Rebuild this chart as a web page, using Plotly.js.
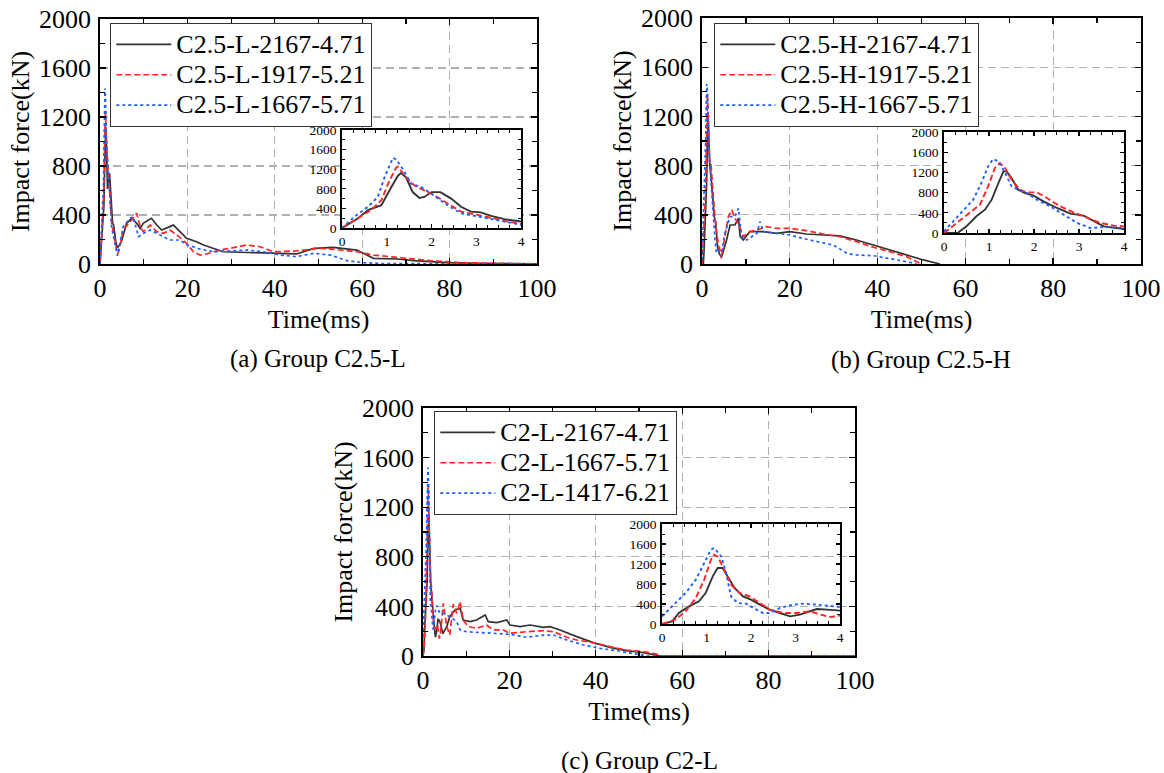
<!DOCTYPE html>
<html><head><meta charset="utf-8">
<script src="https://cdn.plot.ly/plotly-3.0.1.min.js"></script>
<style>html,body{margin:0;padding:0;background:#fff}#chart{width:1164px;height:773px}</style>
</head><body><div id="chart"></div>
<script>
// ---------- (a) Group C2.5-L ----------
const aNames = ['C2.5-L-2167-4.71', 'C2.5-L-1917-5.21', 'C2.5-L-1667-5.71'];
const aBlackT = [0,0.36,0.58,0.73,0.88,1.1,1.25,1.32,1.43,1.58,1.73,1.84,2.0,2.2,2.44,2.66,2.88,3.1,3.33,3.63,4.0,4.6,5.0,6.1,7.3,8.4,9.2,9.9,11.1,11.8,13,14.1,16,16.8,18.3,19.8,22.1,23.7,28.2,33.6,39.7,45,48.9,53.4,58.8,62.6,68,71.8,79.4,87,100];
const aBlackF = [0,200,367,420,467,833,1067,1120,1033,733,613,633,733,733,600,433,333,320,247,180,133,160,196,332,373,332,291,332,359,373,318,277,305,318,264,210,182,155,100,95,87,82,128,136,114,46,41,27,11,5,2];
const aRedT = [0,0.36,0.65,0.88,1.06,1.21,1.25,1.43,1.62,1.84,2.07,2.36,2.66,3.03,3.33,3.7,4.0,4.4,5.3,6.9,8.4,9.2,9.9,11.5,13,14.5,16,17.6,19.8,21.4,22.9,24.4,27.5,29.8,33.6,36.6,39.7,45,50.4,53.4,58.8,62.6,68,75.6,83,94.5,100];
const aRedF = [0,200,367,567,967,1233,1250,1033,867,767,667,500,333,267,200,133,80,114,277,345,414,305,264,318,264,250,277,237,169,100,73,82,114,128,155,141,100,107,128,120,100,73,54,27,11,3,0];
const aBlueT = [0,0.28,0.58,0.8,0.95,1.14,1.21,1.36,1.55,1.77,2.0,2.3,2.66,3.03,3.4,4.0,5.3,6.9,7.6,8.8,9.9,11.5,13,14.5,16,18.3,19.8,21.4,22.1,26,29.8,33.6,37.4,41.2,45,48.9,52.7,56.5,60.3,65,100];
const aBlueF = [0,233,433,633,1033,1433,1400,1200,900,833,700,500,300,233,167,67,305,373,386,223,250,277,250,223,196,196,155,141,128,100,107,114,100,73,60,87,73,27,11,3,0];

// ---------- (b) Group C2.5-H ----------
const bNames = ['C2.5-H-2167-4.71', 'C2.5-H-1917-5.21', 'C2.5-H-1667-5.71'];
const bBlackT = [0,0.3,0.5,0.72,0.91,1.06,1.21,1.32,1.39,1.5,1.65,1.8,1.99,2.21,2.51,2.81,3.1,3.33,3.55,4.0,4.5,5.6,6.4,7.5,8.3,8.7,9.4,10.9,14,17,20,23.8,27.6,31.4,35.2,39,42.8,46.6,50.4,54.2];
const bBlackF = [0,0,132,330,462,660,990,1221,1221,1089,858,792,739,627,495,383,343,231,132,79,60,195,317,317,371,222,195,263,263,249,263,244,236,228,195,154,114,73,33,0];
const bRedT = [0,0.28,0.57,0.8,0.98,1.13,1.24,1.36,1.5,1.69,1.84,2.06,2.29,2.58,2.88,3.18,3.48,3.78,4.0,4.4,5.2,6.0,6.8,7.5,8.3,9.4,10.9,12.5,14.7,17,20,23.8,27.6,31.4,35.2,39,42.8,46.6,49.7];
const bRedF = [0,198,396,561,924,1287,1386,1287,1056,858,805,805,693,528,409,297,198,145,132,46,222,385,439,371,330,222,263,276,303,290,290,271,244,222,182,136,100,60,5];
const bBlueT = [0,0.2,0.42,0.65,0.83,0.98,1.09,1.21,1.36,1.5,1.65,1.84,2.06,2.36,2.66,2.96,3.25,3.55,4.0,4.3,5.2,6.4,7.5,8.3,9.0,10.2,12.5,13.2,14,17,20,23.8,27.6,29.9,33,35.2,39,42.8,46.6,48.9];
const bBlueF = [33,231,429,660,990,1320,1465,1419,1188,924,858,792,660,528,363,198,99,119,99,60,249,385,385,453,222,195,249,344,263,249,236,201,168,154,87,73,68,46,19,0];

// ---------- (c) Group C2-L ----------
const cNames = ['C2-L-2167-4.71', 'C2-L-1667-5.71', 'C2-L-1417-6.21'];
const cBlackT = [0,0.23,0.38,0.61,0.83,0.98,1.14,1.25,1.36,1.48,1.63,1.82,2.0,2.2,2.42,2.65,2.88,3.1,3.33,3.48,3.71,4.0,4.6,5.5,6.2,7.4,8.6,9.3,10.9,12.4,14.4,15.1,17.1,19.4,20.1,22.5,24.8,27.9,29.4,31.7,35.6,39.4,43.3,47.1,51,54.1,55,100];
const cBlackF = [0,53,220,353,453,620,953,1120,1120,953,720,553,487,387,287,220,153,187,253,300,287,267,180,237,317,371,384,290,277,290,331,277,269,290,250,237,250,231,237,210,156,108,70,43,27,8,0,0];
const cRedT = [0,0.3,0.53,0.76,0.95,1.1,1.17,1.25,1.4,1.55,1.74,1.97,2.2,2.42,2.73,3.03,3.33,3.56,3.79,4.0,4.7,5.5,6.2,7.0,7.8,8.6,9.3,10.5,12.4,14.7,16.3,18.6,20.1,24,27.9,30.2,33.3,35.6,39.4,43.3,47.1,51,54.1,55,100];
const cRedF = [0,87,253,520,887,1287,1387,1353,1087,787,620,553,420,287,220,220,253,187,140,167,425,237,169,419,344,438,290,237,223,250,210,210,183,196,204,196,151,129,108,75,48,35,16,0,0];
const cBlueT = [0,0.23,0.53,0.76,0.95,1.1,1.17,1.33,1.44,1.55,1.7,1.89,2.05,2.27,2.42,2.65,2.95,3.18,3.48,3.79,4.0,4.7,6.2,7.8,8.6,10.1,12.4,16.3,20.1,24,27.9,30.2,33.3,37.1,41,44.8,49.5,51,52,100];
const cBlueF = [153,353,620,887,1220,1487,1520,1353,1020,553,420,407,320,220,220,320,387,407,387,353,340,344,317,277,210,196,191,183,175,151,169,169,129,89,62,43,16,8,0,0];

const captions = ['(a) Group C2.5-L', '(b) Group C2.5-H', '(c) Group C2-L'];
const xTitle = 'Time(ms)';
const yTitle = 'Impact force(kN)';

// ---------- styling ----------
const FONT = 'Liberation Serif, Times New Roman, serif';
const W = 1164, H = 773;
const px = (x) => x / W;
const py = (y) => 1 - y / H;
const styles = [
  {color: '#333333', width: 1.7, dash: 'solid'},
  {color: '#ff2626', width: 1.7, dash: '6px,3px'},
  {color: '#1f5fff', width: 1.7, dash: 'dot'}
];

const groups = [
  {names: aNames, T: [aBlackT, aRedT, aBlueT], F: [aBlackF, aRedF, aBlueF], main: 1, inset: 4, legend: 'legend', opaqueInset: true},
  {names: bNames, T: [bBlackT, bRedT, bBlueT], F: [bBlackF, bRedF, bBlueF], main: 2, inset: 5, legend: 'legend2', opaqueInset: true},
  {names: cNames, T: [cBlackT, cRedT, cBlueT], F: [cBlackF, cRedF, cBlueF], main: 3, inset: 6, legend: 'legend3', opaqueInset: false}
];
const axId = (n) => n === 1 ? '' : String(n);
const insetRangeX = [0, 4], rangeY = [0, 2000], mainRangeX = [0, 100];

const data = [];
groups.forEach(g => {
  for (let i = 0; i < 3; i++) {
    data.push({type: 'scatter', mode: 'lines', x: g.T[i], y: g.F[i],
      name: '<span style="font-size:26px">' + g.names[i] + '</span>',
      xaxis: 'x' + axId(g.main), yaxis: 'y' + axId(g.main), legend: g.legend,
      line: Object.assign({}, styles[i]), hoverinfo: 'skip'});
  }
  for (let i = 0; i < 3; i++) {
    data.push({type: 'scatter', mode: 'lines', x: g.T[i], y: g.F[i], name: g.names[i],
      xaxis: 'x' + axId(g.inset), yaxis: 'y' + axId(g.inset), showlegend: false,
      line: Object.assign({}, styles[i], {width: 1.9}), hoverinfo: 'skip'});
  }
});

// pixel boxes [x0, x1, y0(top), y1(bottom)]
const mainBoxes = [[100, 537, 19, 264], [702, 1141, 18, 264], [423, 855, 408, 656]];
const insetBoxes = [[342, 521, 130, 228], [944, 1124, 132, 233], [662, 840, 524, 624]];
const legendPos = [[110, 23], [714, 23], [434, 411]];
const captionPos = [[318, 359], [921, 360], [639, 761]];

const tickFont = {family: FONT, size: 26, color: '#000'};
const insetFont = {family: FONT, size: 13.5, color: '#000'};

const layout = {
  width: W, height: H,
  margin: {l: 0, r: 0, t: 0, b: 0},
  paper_bgcolor: '#ffffff', plot_bgcolor: 'rgba(255,255,255,0)',
  showlegend: true,
  font: {family: FONT, color: '#000'},
  annotations: [], shapes: []
};

mainBoxes.forEach((b, k) => {
  const id = axId(k + 1);
  layout['xaxis' + id] = {
    domain: [px(b[0]), px(b[1])], anchor: 'y' + id, range: mainRangeX, tick0: 0, dtick: 20,
    ticks: 'inside', ticklen: 6, tickwidth: 1.4, tickcolor: '#000', mirror: 'ticks',
    showline: true, linecolor: '#000', linewidth: 1.8, zeroline: false,
    showgrid: true, gridcolor: '#b0b0b0', gridwidth: 1.3, griddash: '8px,5px',
    minor: {dtick: 10, ticks: 'inside', ticklen: 5, tickwidth: 1.2, tickcolor: '#000', showgrid: false},
    tickfont: tickFont, fixedrange: true,
    title: {text: xTitle, font: {family: FONT, size: 26, color: '#000'}, standoff: 8}
  };
  layout['yaxis' + id] = {
    domain: [py(b[3]), py(b[2])], anchor: 'x' + id, range: rangeY, tick0: 0, dtick: 400,
    ticks: 'inside', ticklen: 6, tickwidth: 1.4, tickcolor: '#000', mirror: 'ticks',
    showline: true, linecolor: '#000', linewidth: 1.8, zeroline: false,
    showgrid: true, gridcolor: '#b0b0b0', gridwidth: 1.3, griddash: '8px,5px',
    minor: {dtick: 200, ticks: 'inside', ticklen: 5, tickwidth: 1.2, tickcolor: '#000', showgrid: false},
    tickfont: tickFont, fixedrange: true, ticklabelstandoff: 2,
    title: {text: yTitle, font: {family: FONT, size: 26, color: '#000'}, standoff: 2}
  };
});

insetBoxes.forEach((b, k) => {
  const id = String(k + 4);
  layout['xaxis' + id] = {
    domain: [px(b[0]), px(b[1])], anchor: 'y' + id, range: insetRangeX, tick0: 0, dtick: 1,
    ticks: 'inside', ticklen: 4, tickwidth: 1.2, tickcolor: '#000', mirror: 'ticks',
    showline: true, linecolor: '#000', linewidth: 1.7, zeroline: false, showgrid: false,
    minor: {dtick: 0.25, ticks: 'inside', ticklen: 3, tickwidth: 1, tickcolor: '#000', showgrid: false},
    tickfont: insetFont, fixedrange: true
  };
  layout['yaxis' + id] = {
    domain: [py(b[3]), py(b[2])], anchor: 'x' + id, range: rangeY, tick0: 0, dtick: 400,
    ticks: 'inside', ticklen: 4, tickwidth: 1.2, tickcolor: '#000', mirror: 'ticks',
    showline: true, linecolor: '#000', linewidth: 1.7, zeroline: false, showgrid: false,
    minor: {dtick: 200, ticks: 'inside', ticklen: 3, tickwidth: 1, tickcolor: '#000', showgrid: false},
    tickfont: insetFont, fixedrange: true, ticklabelstandoff: 1
  };
  // opaque white panel behind insets (a) and (b); inset (c) stays see-through
  if (groups[k].opaqueInset) {
    layout.shapes.push({type: 'rect', xref: 'x' + id, yref: 'y' + id,
      x0: insetRangeX[0], x1: insetRangeX[1], y0: rangeY[0], y1: rangeY[1],
      layer: 'between', fillcolor: '#ffffff', line: {width: 0}});
  }
});

['legend', 'legend2', 'legend3'].forEach((L, k) => {
  layout[L] = {
    x: px(legendPos[k][0]), y: py(legendPos[k][1]), xanchor: 'left', yanchor: 'top',
    bgcolor: '#ffffff', bordercolor: '#333', borderwidth: 1.3,
    font: {family: FONT, size: 21, color: '#000'}, itemwidth: 55, tracegroupgap: 0,
    itemclick: false, itemdoubleclick: false
  };
});

captions.forEach((c, k) => {
  layout.annotations.push({text: c, xref: 'paper', yref: 'paper', x: px(captionPos[k][0]), y: py(captionPos[k][1]),
    xanchor: 'center', yanchor: 'middle', showarrow: false, font: {family: FONT, size: 25, color: '#000'}});
});

Plotly.newPlot('chart', data, layout, {displayModeBar: false, staticPlot: true});
</script></body></html>
